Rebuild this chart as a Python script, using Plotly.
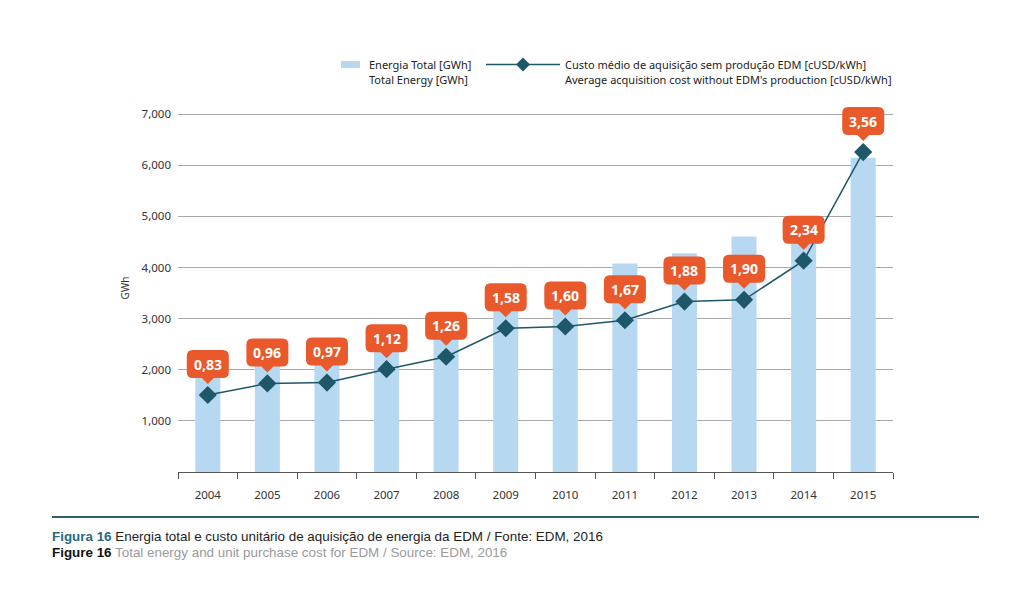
import plotly.graph_objects as go

# ---------------- data ----------------
years = ["2004", "2005", "2006", "2007", "2008", "2009", "2010", "2011", "2012", "2013", "2014", "2015"]
energy_gwh = [1900, 2150, 2200, 2450, 2650, 3250, 3350, 4080, 4280, 4610, 4800, 6150]
cost_cusd = [0.83, 0.96, 0.97, 1.12, 1.26, 1.58, 1.60, 1.67, 1.88, 1.90, 2.34, 3.56]
cost_labels = ["0,83", "0,96", "0,97", "1,12", "1,26", "1,58", "1,60", "1,67", "1,88", "1,90", "2,34", "3,56"]
y_ticks = [1000, 2000, 3000, 4000, 5000, 6000, 7000]

legend_pt = ["Energia Total [GWh]", "Custo médio de aquisição sem produção EDM [cUSD/kWh]"]
legend_en = ["Total Energy [GWh]", "Average acquisition cost without EDM's production [cUSD/kWh]"]
caption_pt = ("Figura 16", "Energia total e custo unitário de aquisição de energia da EDM / Fonte: EDM, 2016")
caption_en = ("Figure 16", "Total energy and unit purchase cost for EDM / Source: EDM, 2016")

# ---------------- style ----------------
OFF = 8  # page body margin
W, H = 1024 - OFF, 596 - OFF
PL, PR, PT, PB = 178 - OFF, 893 - OFF, 104 - OFF, 472 - OFF
BAR = "#B7D8F1"
TEAL = "#1D5769"
ORANGE = "#E9592B"
FONT = "Noto Sans"


def px(x):
    return (x - OFF - PL) / (PR - PL)


def py(y):
    return (PB - (y - OFF)) / (PB - PT)


fig = go.Figure()
fig.add_trace(go.Bar(x=years, y=energy_gwh, marker=dict(color=BAR, line=dict(width=0)),
                     width=0.42, showlegend=False, hoverinfo="skip"))
fig.add_trace(go.Scatter(x=years, y=cost_cusd, yaxis="y2", mode="lines+markers",
                         line=dict(color=TEAL, width=1.5),
                         marker=dict(symbol="diamond", size=14, color=TEAL),
                         showlegend=False, hoverinfo="skip"))

shapes = []
annotations = []

bubble_path = ("M 0,11 L -6,17 L -15,17 Q -21,17 -21,23 L -21,39 Q -21,45 -15,45 "
               "L 15,45 Q 21,45 21,39 L 21,23 Q 21,17 15,17 L 6,17 Z")
for i, (c, lab) in enumerate(zip(cost_cusd, cost_labels)):
    shapes.append(dict(type="path", xref="x", yref="y2", xsizemode="pixel", ysizemode="pixel",
                       xanchor=i, yanchor=c, path=bubble_path,
                       fillcolor=ORANGE, line=dict(width=0), layer="above"))
    annotations.append(dict(x=i, y=c, xref="x", yref="y2", yshift=31, showarrow=False,
                            text="<b>%s</b>" % lab, font=dict(family=FONT, size=14, color="white")))

# legend (manual)
shapes.append(dict(type="rect", xref="paper", yref="paper", x0=px(341), x1=px(360),
                   y0=py(68), y1=py(61), fillcolor=BAR, line=dict(width=0)))
shapes.append(dict(type="line", xref="paper", yref="paper", x0=px(486), x1=px(560),
                   y0=py(64.5), y1=py(64.5), line=dict(color=TEAL, width=1.5)))
shapes.append(dict(type="path", xref="paper", yref="paper", xsizemode="pixel", ysizemode="pixel",
                   xanchor=px(523), yanchor=py(64.5), path="M 0,7 L 7,0 L 0,-7 L -7,0 Z",
                   fillcolor=TEAL, line=dict(width=0)))
for xl, t1, t2 in [(367, legend_pt[0], legend_en[0]), (563, legend_pt[1], legend_en[1])]:
    annotations.append(dict(x=px(xl), y=py(64.5), xref="paper", yref="paper", xanchor="left",
                            yanchor="middle", showarrow=False, text=t1,
                            font=dict(family=FONT, size=11, color="#222")))
    annotations.append(dict(x=px(xl), y=py(79.5), xref="paper", yref="paper", xanchor="left",
                            yanchor="middle", showarrow=False, text=t2,
                            font=dict(family=FONT, size=11, color="#222")))

# caption
shapes.append(dict(type="line", xref="paper", yref="paper", x0=px(52), x1=px(979),
                   y0=py(517), y1=py(517), line=dict(color="#2E5E6C", width=2)))
annotations.append(dict(x=px(50), y=py(536), xref="paper", yref="paper", xanchor="left",
                        yanchor="middle", showarrow=False,
                        text="<b><span style='color:#2A6A7E'>%s</span></b> %s" % caption_pt,
                        font=dict(family="Liberation Sans", size=13.4, color="#222")))
annotations.append(dict(x=px(50), y=py(552), xref="paper", yref="paper", xanchor="left",
                        yanchor="middle", showarrow=False,
                        text="<b><span style='color:#111'>%s</span></b> %s" % caption_en,
                        font=dict(family="Liberation Sans", size=13.4, color="#9A9A9A")))

fig.update_layout(
    width=W, height=H,
    margin=dict(l=PL, r=W - PR, t=PT, b=H - PB, pad=0),
    paper_bgcolor="white", plot_bgcolor="white",
    font=dict(family=FONT, size=11, color="#333"),
    bargap=0.58,
    xaxis=dict(type="category", showgrid=False, showline=True, linecolor="#555", linewidth=1,
               ticks="outside", tickson="boundaries", ticklen=6, tickcolor="#555",
               ticklabelstandoff=12,
               tickfont=dict(family=FONT, size=11.5, color="#333"), range=[-0.5, 11.5]),
    yaxis=dict(range=[0, 7200], tickvals=y_ticks, tickformat=",", showgrid=True,
               gridcolor="#A8A8A8", gridwidth=1, zeroline=False, showline=False,
               ticks="", ticklabelstandoff=6,
               tickfont=dict(family=FONT, size=11.5, color="#333"),
               title=dict(text="GWh", font=dict(family=FONT, size=10, color="#333"), standoff=10)),
    yaxis2=dict(overlaying="y", side="right", range=[-0.035, 4.10], visible=False,
                showgrid=False, zeroline=False),
    shapes=shapes,
    annotations=annotations,
)

fig.write_html("out.html")
